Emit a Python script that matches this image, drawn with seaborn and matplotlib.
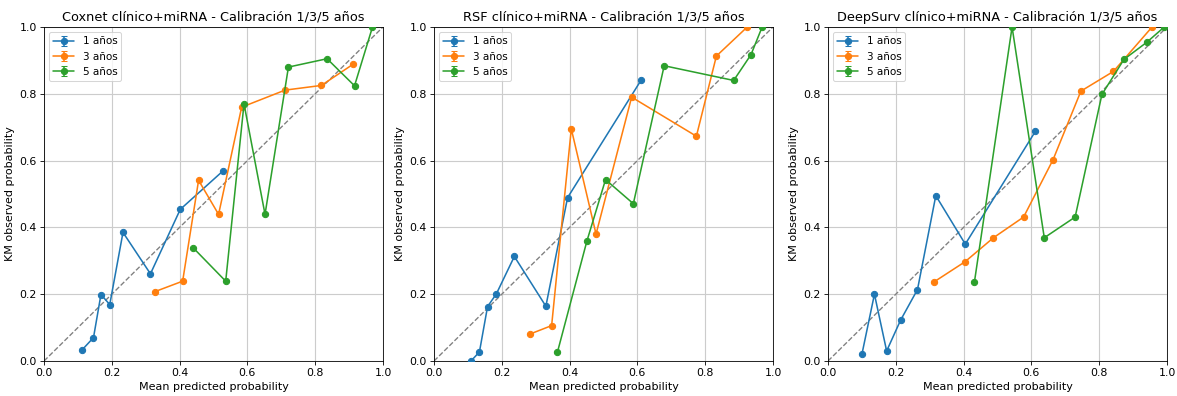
import matplotlib
matplotlib.use("Agg")
import matplotlib.pyplot as plt
import seaborn as sns
import numpy as np

sns.set_theme(style="white")
plt.rcParams.update({
    "font.family": ["DejaVu Sans"],
    "axes.edgecolor": "black",
    "axes.linewidth": 0.8,
    "xtick.bottom": True,
    "ytick.left": True,
    "xtick.color": "black",
    "ytick.color": "black",
    "axes.labelcolor": "black",
    "text.color": "black",
    "xtick.major.size": 3.5,
    "ytick.major.size": 3.5,
    "xtick.major.width": 0.8,
    "ytick.major.width": 0.8,
})

titles = ["Coxnet clínico+miRNA - Calibración 1/3/5 años",
          "RSF clínico+miRNA - Calibración 1/3/5 años",
          "DeepSurv clínico+miRNA - Calibración 1/3/5 años"]
horizons = ["1 años", "3 años", "5 años"]

# Coxnet
cox_1_x = [0.113, 0.146, 0.168, 0.194, 0.233, 0.314, 0.402, 0.529]
cox_1_y = [0.034, 0.070, 0.199, 0.169, 0.385, 0.261, 0.454, 0.570]
cox_3_x = [0.328, 0.409, 0.456, 0.515, 0.583, 0.711, 0.818, 0.911]
cox_3_y = [0.208, 0.239, 0.541, 0.439, 0.760, 0.811, 0.825, 0.888]
cox_5_x = [0.440, 0.536, 0.590, 0.652, 0.721, 0.835, 0.916, 0.969]
cox_5_y = [0.339, 0.239, 0.770, 0.439, 0.880, 0.905, 0.824, 1.000]

# RSF
rsf_1_x = [0.109, 0.134, 0.158, 0.184, 0.237, 0.330, 0.394, 0.611]
rsf_1_y = [0.000, 0.027, 0.163, 0.201, 0.313, 0.164, 0.489, 0.841]
rsf_3_x = [0.284, 0.347, 0.405, 0.478, 0.583, 0.774, 0.833, 0.924]
rsf_3_y = [0.081, 0.106, 0.695, 0.380, 0.790, 0.673, 0.913, 1.000]
rsf_5_x = [0.364, 0.451, 0.506, 0.588, 0.679, 0.884, 0.935, 0.968]
rsf_5_y = [0.026, 0.359, 0.543, 0.471, 0.884, 0.840, 0.917, 1.000]

# DeepSurv
ds_1_x = [0.100, 0.137, 0.173, 0.214, 0.264, 0.318, 0.405, 0.612]
ds_1_y = [0.020, 0.200, 0.030, 0.122, 0.214, 0.495, 0.350, 0.688]
ds_3_x = [0.313, 0.404, 0.488, 0.577, 0.664, 0.746, 0.842, 0.956]
ds_3_y = [0.237, 0.297, 0.369, 0.431, 0.603, 0.808, 0.867, 1.000]
ds_5_x = [0.432, 0.543, 0.638, 0.729, 0.808, 0.873, 0.940, 0.992]
ds_5_y = [0.237, 1.000, 0.369, 0.431, 0.798, 0.903, 0.954, 1.000]

panels = [
    [(cox_1_x, cox_1_y), (cox_3_x, cox_3_y), (cox_5_x, cox_5_y)],
    [(rsf_1_x, rsf_1_y), (rsf_3_x, rsf_3_y), (rsf_5_x, rsf_5_y)],
    [(ds_1_x, ds_1_y), (ds_3_x, ds_3_y), (ds_5_x, ds_5_y)],
]

colors = sns.color_palette("tab10", 3)
W, H = 1177, 396
dpi = 75
fig = plt.figure(figsize=(W / dpi, H / dpi), dpi=dpi)
lefts = [44, 434, 828]
for i, (left, title, series) in enumerate(zip(lefts, titles, panels)):
    ax = fig.add_axes([left / W, 1 - 361 / H, 339 / W, 334 / H])
    ax.plot([0, 1], [0, 1], "--", color="gray", lw=1.3, zorder=1)
    for (xs, ys), lab, c in zip(series, horizons, colors):
        ax.errorbar(xs, ys, yerr=np.zeros(len(ys)), fmt="-o", color=c,
                    capsize=3, markersize=6, lw=1.5, label=lab, zorder=3)
    ax.set_xlim(0, 1)
    ax.set_ylim(0, 1)
    ax.set_xticks(np.arange(0, 1.01, 0.2))
    ax.set_yticks(np.arange(0, 1.01, 0.2))
    ax.grid(True, color="#cccccc", lw=1.1)
    ax.set_axisbelow(True)
    ax.tick_params(labelsize=10.5, direction="out")
    ax.set_xlabel("Mean predicted probability", fontsize=10.7)
    ax.set_ylabel("KM observed probability", fontsize=10.7)
    ax.set_title(title, fontsize=12.4)
    ax.legend(loc="upper left", fontsize=10, frameon=True)

fig.savefig("out.png", dpi=dpi)
